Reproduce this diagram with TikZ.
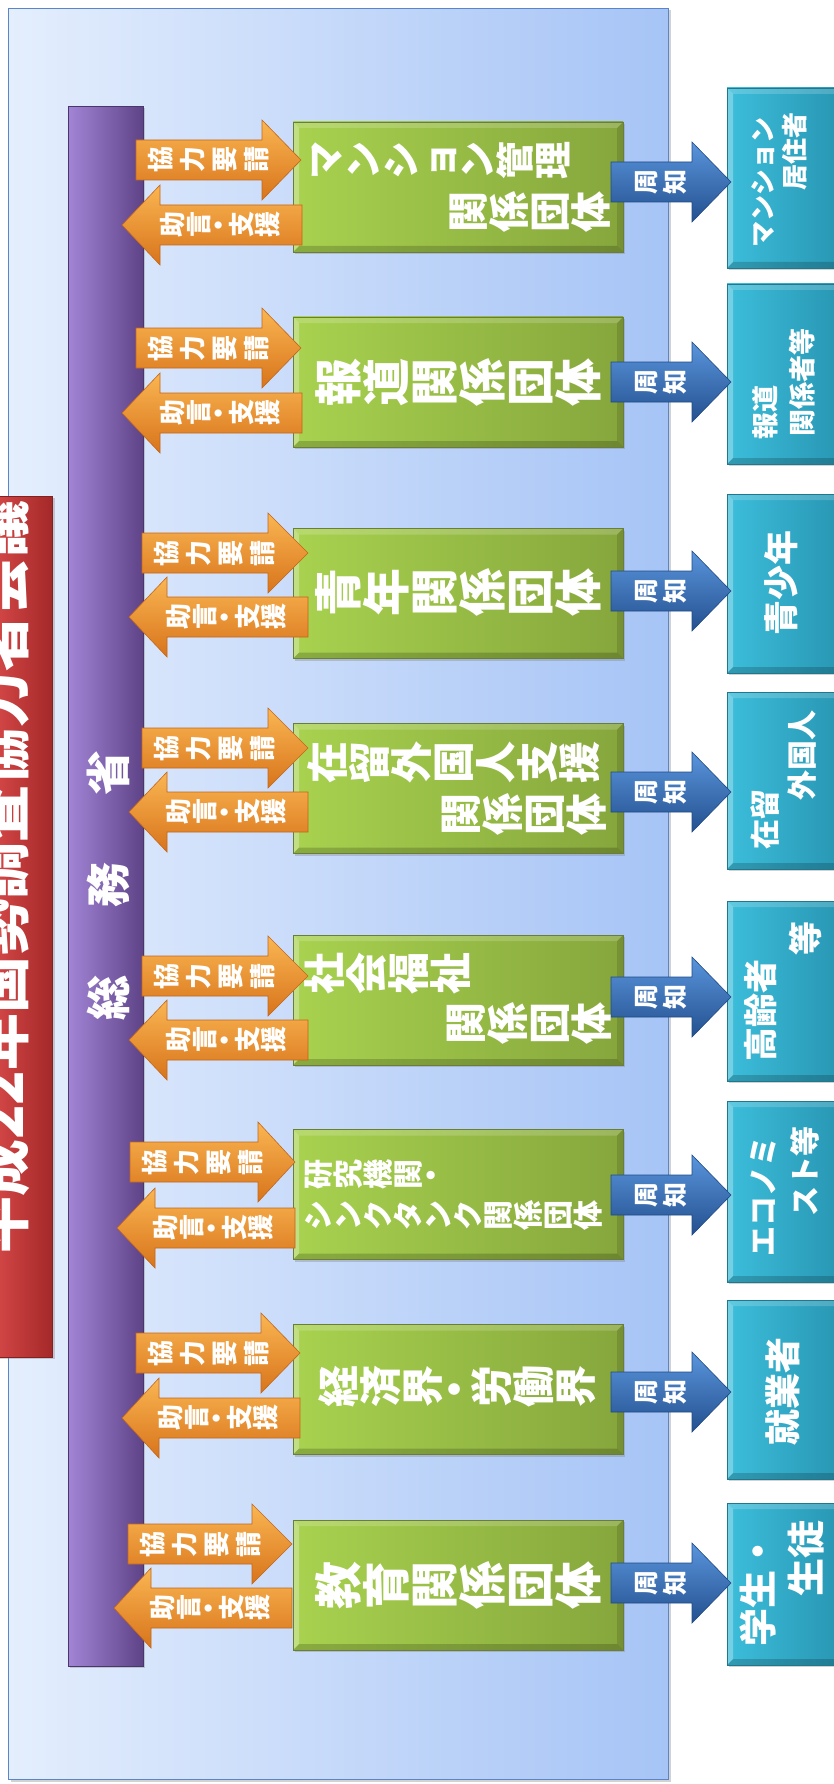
\documentclass[tikz,border=0pt]{standalone}
\usepackage{fontspec}
\usepackage{graphicx}
\newfontfamily\jp{Noto Sans CJK JP}
\usetikzlibrary{shadows}
\definecolor{panelL}{HTML}{E4EEFD}
\definecolor{panelR}{HTML}{A6C4F6}
\definecolor{panelB}{HTML}{5B85C9}
\definecolor{purL}{HTML}{A284D6}
\definecolor{purM}{HTML}{7B59A7}
\definecolor{purR}{HTML}{5E4387}
\definecolor{redL}{HTML}{D64848}
\definecolor{redR}{HTML}{A42828}
\definecolor{grL}{HTML}{A8D24F}
\definecolor{grR}{HTML}{86A63C}
\definecolor{grB}{HTML}{6A7E3A}
\definecolor{tlL}{HTML}{3CBEDB}
\definecolor{tlR}{HTML}{2896B3}
\definecolor{orL}{HTML}{FAB652}
\definecolor{orM}{HTML}{F29029}
\definecolor{orD}{HTML}{D8741B}
\definecolor{orB}{HTML}{C4661A}
\definecolor{blL}{HTML}{5A95DC}
\definecolor{blM}{HTML}{3A74C3}
\definecolor{blD}{HTML}{23508F}
\definecolor{blB}{HTML}{1F4A86}
\newcommand\fsz[1]{\fontsize{#1}{#1}\selectfont}
% vertical (tategaki) text: every character turned 90 degrees, set left to right
\newdimen\vtsep \vtsep=0pt
\makeatletter
\newcommand\vchb[2]{\rotatebox[origin=c]{90}{\rule[\dimexpr0.38em-#1/2\relax]{0pt}{#1}\makebox[1em]{\smash{#2}}}}
\def\vch#1{\ifx#1・\vchb{0.5em}{#1}\else\vchb{1em}{#1}\fi}
\def\vtext#1{\vtext@#1\@nil}
\def\vtext@#1{\ifx\@nil#1\else\vch{#1}\kern\vtsep\relax\expandafter\vtext@\fi}
\makeatother
\tikzset{
  bevel/.style={path picture={
    \fill[white,opacity=#1] (path picture bounding box.north west) -- (path picture bounding box.south west)
      -- ([shift={(6pt,6pt)}]path picture bounding box.south west) -- ([shift={(6pt,-6pt)}]path picture bounding box.north west) -- cycle;
    \fill[white,opacity=#1*0.6] (path picture bounding box.north west) -- (path picture bounding box.north east)
      -- ([shift={(-6pt,-6pt)}]path picture bounding box.north east) -- ([shift={(6pt,-6pt)}]path picture bounding box.north west) -- cycle;
    \fill[black,opacity=#1*0.6] (path picture bounding box.south west) -- (path picture bounding box.south east)
      -- ([shift={(-6pt,6pt)}]path picture bounding box.south east) -- ([shift={(6pt,6pt)}]path picture bounding box.south west) -- cycle;
    \fill[black,opacity=#1*0.4] (path picture bounding box.north east) -- (path picture bounding box.south east)
      -- ([shift={(-6pt,6pt)}]path picture bounding box.south east) -- ([shift={(-6pt,-6pt)}]path picture bounding box.north east) -- cycle;
  }},
  shad/.style={drop shadow={shadow xshift=2pt,shadow yshift=-2pt,opacity=.35}},
  gbox/.style={shad,draw=grB,line width=0.8pt,left color=grL,right color=grR,bevel=0.3,
    minimum width=330pt,minimum height=130pt,inner sep=0pt},
  tbox/.style={shad,draw=tlR!80!black,line width=0.6pt,left color=tlL,right color=tlR,bevel=0.3,
    minimum width=113pt,inner sep=0pt},
  vt/.style={text=white,inner sep=0pt,font=\jp\bfseries},
  ht/.style={text=white,inner sep=0pt,rotate=90,font=\jp\bfseries},
  oarrow/.style={top color=orL,middle color=orM,bottom color=orD,draw=orB,line width=0.6pt},
  barrow/.style={top color=blL,middle color=blM,bottom color=blD,draw=blB,line width=0.6pt},
}
% cooperation request arrow: name, y, x start, x neck, x tip
\newcommand\req[5]{%
  \path[oarrow] (#3,#2-20) -- (#4,#2-20) -- (#4,#2-40) -- (#5,#2) -- (#4,#2+40) -- (#4,#2+20) -- (#3,#2+20) -- cycle;
  \node[vt] (#1) at (#3+76,#2) {\fsz{26}\vtsep=6pt\vtext{協力要請}};}
% advice arrow: name, y, x right, x neck, x tip
\newcommand\adv[5]{%
  \path[oarrow] (#3,#2-20) -- (#4,#2-20) -- (#4,#2-40) -- (#5,#2) -- (#4,#2+40) -- (#4,#2+20) -- (#3,#2+20) -- cycle;
  \node[vt] (#1) at (#3-82,#2) {\fsz{26}\vtext{助言・支援}};}
% notice arrow: name, y
\newcommand\notice[2]{%
  \path[barrow] (611,#2-20) -- (692,#2-20) -- (692,#2-40) -- (731,#2) -- (692,#2+40) -- (692,#2+20) -- (611,#2+20) -- cycle;
  \node[vt] (#1) at (662,#2) {\fsz{25}\vtsep=4pt\vtext{周知}};}
\begin{document}
\begin{tikzpicture}[x=1pt,y=-1pt]
\useasboundingbox (0,0) rectangle (833,1784);
\fill[white] (0,0) rectangle (833,1784);
% panel
\node[shad,draw=panelB,line width=1pt,left color=panelL,right color=panelR,
  minimum width=660pt,minimum height=1771pt,inner sep=0pt,anchor=north west] (panel) at (8,8) {};
% title
\node[shad,left color=redL,right color=redR,draw=redR!80!black,line width=0.6pt,
  minimum width=60pt,minimum height=861pt,inner sep=0pt,anchor=north east] (titlebox) at (53,496) {};
\node[ht] (title) at (2,877) {\fsz{57}平成22年国勢調査協力者会議};
% ministry bar
\node[shad,left color=purL,middle color=purM,right color=purR,draw=purR!80!black,line width=0.6pt,
  minimum width=75pt,minimum height=1560pt,inner sep=0pt,anchor=north west] (mic) at (68,106) {};
\node[ht] (mictext) at (108,885) {\fsz{45}総\hspace{1.5em}務\hspace{1.5em}省};
% green boxes
\node[gbox] (g1) at (458,187) {};
\node[gbox] (g2) at (458,382) {};
\node[gbox] (g3) at (458,593.5) {};
\node[gbox] (g4) at (458,788.5) {};
\node[gbox] (g5) at (458,1000) {};
\node[gbox] (g6) at (458,1194.5) {};
\node[gbox] (g7) at (458,1389.5) {};
\node[gbox] (g8) at (458,1585) {};
% teal boxes
\node[tbox,minimum height=180pt] (t1) at (783.5,178) {};
\node[tbox,minimum height=180pt] (t2) at (783.5,374) {};
\node[tbox,minimum height=179pt] (t3) at (783.5,583.5) {};
\node[tbox,minimum height=177pt] (t4) at (783.5,780.5) {};
\node[tbox,minimum height=180pt] (t5) at (783.5,991) {};
\node[tbox,minimum height=181pt] (t6) at (783.5,1191.5) {};
\node[tbox,minimum height=179pt] (t7) at (783.5,1389.5) {};
\node[tbox,minimum height=162pt] (t8) at (783.5,1584) {};
% orange arrows
\req{r1}{160}{136}{262}{301}  \adv{a1}{225}{302}{160}{122}
\req{r2}{348}{136}{262}{301}  \adv{a2}{413}{302}{160}{122}
\req{r3}{553}{142}{268}{308}  \adv{a3}{617}{308}{167}{129}
\req{r4}{748}{142}{268}{308}  \adv{a4}{812}{308}{167}{129}
\req{r5}{976}{142}{268}{308}  \adv{a5}{1040}{308}{167}{129}
\req{r6}{1162}{130}{258}{295} \adv{a6}{1228}{295}{155}{117}
\req{r7}{1353}{136}{261}{300} \adv{a7}{1418}{300}{159}{122}
\req{r8}{1544}{128}{252}{292} \adv{a8}{1608}{292}{151}{114}
% blue arrows
\notice{n1}{182} \notice{n2}{382} \notice{n3}{591} \notice{n4}{792}
\notice{n5}{997} \notice{n6}{1195} \notice{n7}{1392} \notice{n8}{1583}
% green texts
\node[vt,anchor=west] (g1a) at (306,161) {\fsz{38}\vtext{マンション管理}};
\node[vt,anchor=east] (g1b) at (612,212) {\fsz{41}\vtext{関係団体}};
\node[vt] (g2a) at (458,382) {\fsz{48}\vtext{報道関係団体}};
\node[vt] (g3a) at (458,592) {\fsz{48}\vtext{青年関係団体}};
\node[vt,anchor=west] (g4a) at (306,762) {\fsz{42}\vtext{在留外国人支援}};
\node[vt,anchor=east] (g4b) at (608,814) {\fsz{42}\vtext{関係団体}};
\node[vt,anchor=west] (g5a) at (303,973) {\fsz{42}\vtext{社会福祉}};
\node[vt,anchor=east] (g5b) at (613,1023) {\fsz{42}\vtext{関係団体}};
\node[vt,anchor=west] (g6a) at (303,1175) {\fsz{30}\vtext{研究機関・}};
\node[vt,anchor=west] (g6b) at (303,1215) {\fsz{30}\vtext{シンクタンク関係団体}};
\node[vt] (g7a) at (457,1388) {\fsz{42}\vtext{経済界・労働界}};
\node[vt] (g8a) at (458,1585) {\fsz{48}\vtext{教育関係団体}};
% teal texts
\node[ht,anchor=west] (t1a) at (763,248) {\fsz{26}マンション};
\node[ht,anchor=east] (t1b) at (795,112) {\fsz{26}居住者};
\node[ht,anchor=west] (t2a) at (765,440) {\fsz{27}報道};
\node[ht,anchor=east] (t2b) at (802,328) {\fsz{27}関係者等};
\node[ht] (t3a) at (781,583) {\fsz{35}青少年};
\node[ht,anchor=west] (t4a) at (765,850) {\fsz{30}在留};
\node[ht,anchor=east] (t4b) at (802,710) {\fsz{30}外国人};
\node[ht,anchor=west] (t5a) at (761,1062) {\fsz{34}高齢者};
\node[ht,anchor=east] (t5b) at (805,921) {\fsz{34}等};
\node[ht,anchor=west] (t6a) at (763,1257) {\fsz{30}エコノミ};
\node[ht,anchor=east] (t6b) at (805,1126) {\fsz{30}スト等};
\node[ht] (t7a) at (783,1391) {\fsz{36}就業者};
\node[ht,anchor=west] (t8a) at (758,1647) {\fsz{38}学生・};
\node[ht,anchor=east] (t8b) at (806,1520) {\fsz{38}生徒};
\end{tikzpicture}
\end{document}
